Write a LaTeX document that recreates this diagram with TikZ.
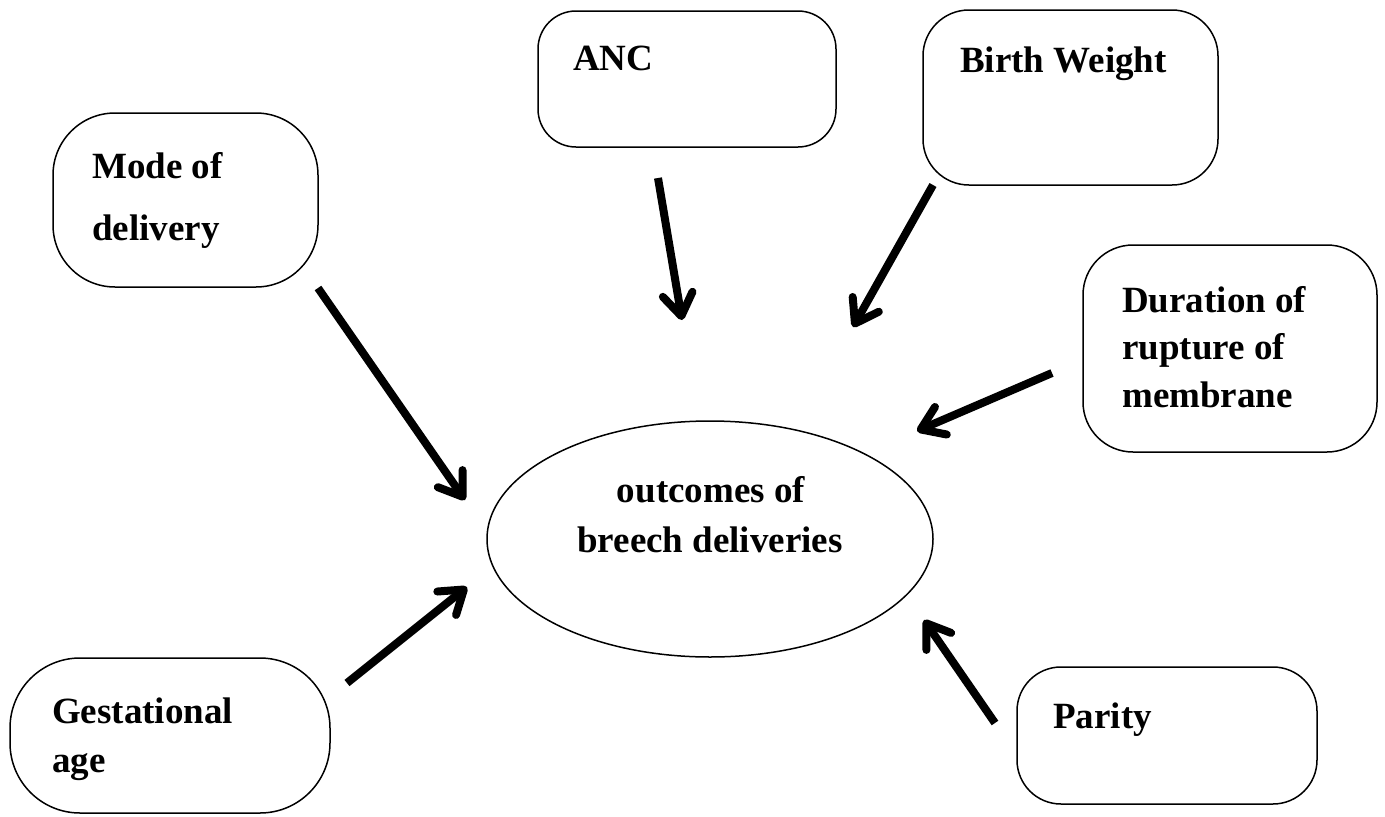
\documentclass[tikz,border=0pt]{standalone}
\usepackage{fontspec}
\setmainfont{Liberation Serif}
\usetikzlibrary{arrows.meta,shapes.geometric}
\begin{document}
\begin{tikzpicture}[x=1pt,y=-1pt,
  box/.style={draw=black, line width=1.5pt, rectangle, rounded corners=#1, inner sep=0pt},
  oval/.style={draw=black, line width=1.5pt, ellipse, inner sep=0pt},
  lbl/.style={inner sep=0pt, anchor=base west, font=\fontsize{37}{44}\selectfont\bfseries},
  clbl/.style={inner sep=0pt, anchor=base, font=\fontsize{37}{44}\selectfont\bfseries},
  link/.style={line width=8pt, -{Straight Barb[length=22pt,width=30pt,line cap=round,line join=round]}}]
\useasboundingbox (0,0) rectangle (1385,817);
% boxes
\node[box=38pt, minimum width=298pt, minimum height=136pt] (anc) at (687,79) {};
\node[box=46pt, minimum width=295pt, minimum height=175pt] (bw) at (1070.5,97.5) {};
\node[box=62pt, minimum width=265pt, minimum height=174pt] (mode) at (185.5,200) {};
\node[box=50pt, minimum width=294pt, minimum height=207pt] (dur) at (1230,348.5) {};
\node[box=70pt, minimum width=320pt, minimum height=155pt] (gest) at (170,735.5) {};
\node[box=44pt, minimum width=300pt, minimum height=137pt] (par) at (1167,735.5) {};
\node[oval, minimum width=446pt, minimum height=236pt] (out) at (710,539) {};
% texts
\node[lbl] (ancT) at (573,70) {ANC};
\node[lbl] (bwT) at (960,72) {Birth Weight};
\node[lbl] (modeT1) at (92,178) {Mode of};
\node[lbl] (modeT2) at (92,240) {delivery};
\node[lbl] (durT1) at (1122,312) {Duration of};
\node[lbl] (durT2) at (1122,359) {rupture of};
\node[lbl] (durT3) at (1122,407) {membrane};
\node[lbl] (gestT1) at (52,723) {Gestational};
\node[lbl] (gestT2) at (52,772) {age};
\node[lbl] (parT) at (1053,728) {Parity};
\node[clbl] (outT1) at (711,502) {outcomes of};
\node[clbl] (outT2) at (710,552) {breech deliveries};
% arrow ends
\coordinate (a1s) at (658,178); \coordinate (a1e) at (682,320);
\coordinate (a2s) at (933,185); \coordinate (a2e) at (853,327);
\coordinate (a3s) at (318,288); \coordinate (a3e) at (465,500);
\coordinate (a4s) at (1052,373); \coordinate (a4e) at (917,431);
\coordinate (a5s) at (347,683); \coordinate (a5e) at (467,587);
\coordinate (a6s) at (995,723); \coordinate (a6e) at (924,620);
\draw[link] (a1s) -- (a1e);
\draw[link] (a2s) -- (a2e);
\draw[link] (a3s) -- (a3e);
\draw[link] (a4s) -- (a4e);
\draw[link] (a5s) -- (a5e);
\draw[link] (a6s) -- (a6e);
\end{tikzpicture}
\end{document}
